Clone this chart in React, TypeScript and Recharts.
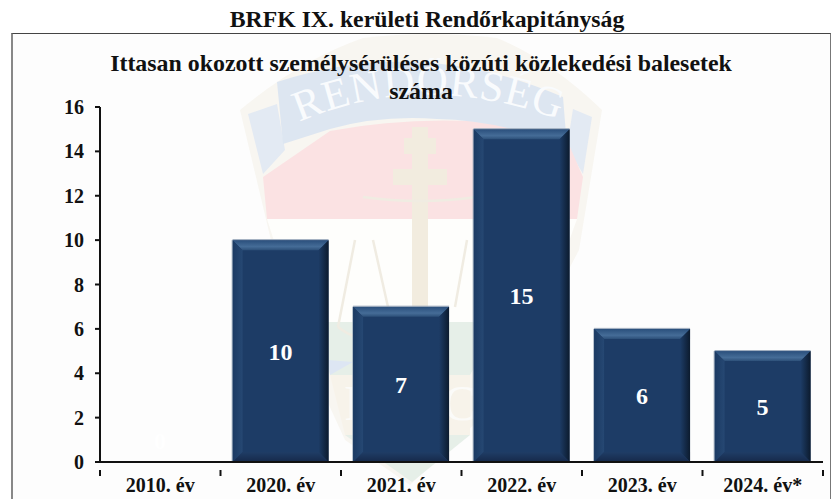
import * as React from "react"
import { Bar, BarChart, LabelList, XAxis, YAxis } from "recharts"

const categories = ["2010. év", "2020. év", "2021. év", "2022. év", "2023. év", "2024. év*"]
const accidents = [0, 10, 7, 15, 6, 5]
const yTicks = [0, 2, 4, 6, 8, 10, 12, 14, 16]

const pageTitle = "BRFK IX. kerületi Rendőrkapitányság"
const chartTitle = ["Ittasan okozott személysérüléses közúti közlekedési balesetek", "száma"]

const chartData = categories.map((name, i) => ({ name, value: accidents[i] }))

const FONT = '"Liberation Serif", "Times New Roman", serif'
const PLOT_LEFT = 100
const PLOT_RIGHT = 823
const BAND = (PLOT_RIGHT - PLOT_LEFT) / categories.length

function BevelBar(props: any) {
  const { x, y, width, height } = props
  if (!height || height <= 0) return null
  const b = 10
  const r = x + width
  const t = y + height
  return (
    <g>
      <rect x={x} y={y} width={width} height={height} fill="#1d3c66" />
      <polygon points={`${x},${y} ${r},${y} ${r - b},${y + b} ${x + b},${y + b}`} fill="url(#bevelTop)" />
      <polygon points={`${x},${y} ${x + b},${y + b} ${x + b},${t - b} ${x},${t}`} fill="url(#bevelLeft)" />
      <polygon points={`${r},${y} ${r},${t} ${r - b},${t - b} ${r - b},${y + b}`} fill="url(#bevelRight)" />
      <polygon points={`${x},${t} ${x + b},${t - b} ${r - b},${t - b} ${r},${t}`} fill="url(#bevelBottom)" />
      <line x1={x} x2={r} y1={y - 0.5} y2={y - 0.5} stroke="#9aa9bb" strokeWidth={1} />
      <line x1={x - 0.5} x2={x - 0.5} y1={y} y2={t} stroke="#9aa9bb" strokeWidth={1} opacity={0.7} />
    </g>
  )
}

function ValueLabel(props: any) {
  const { x, y, width, height, value } = props
  // the zero bar has no height, its white label sits just above the axis
  const cy = value === 0 ? y - 22 : y + height / 2
  return (
    <text x={x + width / 2} y={cy} dy="0.36em" textAnchor="middle" fill="#ffffff" fontFamily={FONT} fontWeight="bold" fontSize={24}>
      {value}
    </text>
  )
}

function CategoryTick(props: any) {
  const { x, y, payload, index } = props
  const left = x - BAND / 2
  return (
    <g>
      <line x1={left} x2={left} y1={y} y2={y + 6} stroke="#111" strokeWidth={2} />
      {index === categories.length - 1 && (
        <line x1={left + BAND} x2={left + BAND} y1={y} y2={y + 6} stroke="#111" strokeWidth={2} />
      )}
      <text x={x} y={y + 22} textAnchor="middle" fill="#111" fontFamily={FONT} fontWeight="bold" fontSize={20}>
        {payload.value}
      </text>
    </g>
  )
}

function Watermark() {
  return (
    <svg width={832} height={499} style={{ position: "absolute", left: 0, top: 0 }}>
      <defs>
        <path id="ribbonArc" d="M299 122 Q 425 68 565 122" />
      </defs>
      {/* shield body */}
      <path d="M240 110 Q 300 60 363 38 Q 430 30 497 38 Q 550 60 602 110 L579 250 L500 400 L410 485 L345 440 L290 320 Z" fill="#f8f6f1" />
      {/* side tails of the ribbon */}
      <polygon points="248,114 277,104 285,150 263,174" fill="#e3eaf3" />
      <polygon points="573,109 592,117 583,174 567,147" fill="#e3eaf3" />
      {/* red band */}
      <path d="M263 177 L330 131 Q 440 110 563 131 L583 177 L577 219 L267 219 Z" fill="#fbe2e3" />
      {/* white field */}
      <polygon points="267,219 577,219 540,322 300,322" fill="#fefefc" />
      {/* ribbon */}
      <path d="M277 82 Q 420 35 563 97 L567 147 Q 500 120 437 119 Q 380 115 330 129 L283 144 Z" fill="#dde6f1" />
      {/* green and beige lower part */}
      <polygon points="315,322 500,322 470,375 330,375" fill="#e6efe8" />
      <polygon points="330,375 470,375 470,435 345,435" fill="#f7f3ea" />
      <polygon points="345,435 470,435 412,482" fill="#e6efe8" />
      <polygon points="328,360 353,362 330,375" fill="#dde6f3" />
      {/* double cross */}
      <path d="M420 127 V330 M404 146 H436 M393 177 H447" stroke="#f2ecdf" strokeWidth={16} fill="none" />
      {/* scales */}
      <path d="M363 197 Q 420 205 477 197 M355 240 L338 327 M373 240 L388 307 M467 240 L455 307 M338 327 Q 360 345 400 340" stroke="#f0ece2" strokeWidth={2.5} fill="none" />
      <text fontFamily={FONT} fontSize={43} letterSpacing={1} fill="#f9fbfd">
        <textPath href="#ribbonArc">RENDŐRSÉG</textPath>
      </text>
      <text x={344} y={420} fontFamily={FONT} fontSize={50} fill="#fbfbf9">P</text>
      <text x={443} y={420} fontFamily={FONT} fontSize={50} fill="#fbfbf9">C</text>
    </svg>
  )
}

export default function App() {
  return (
    <div style={{ position: "absolute", left: 0, top: 0, width: 832, height: 499, overflow: "hidden", background: "#fff" }}>
      <div style={{ position: "absolute", left: 11, top: 33, width: 820, height: 470, background: "#fdfdfd", borderTop: "1px solid #444", borderLeft: "2px solid #888", borderRight: "1px solid #777", boxSizing: "border-box" }} />
      <Watermark />
      <div style={{ position: "absolute", left: 0, width: 854, top: 5, textAlign: "center", fontFamily: FONT, fontWeight: "bold", fontSize: 23.75, lineHeight: "28px", color: "#111" }}>
        {pageTitle}
      </div>
      <div style={{ position: "absolute", left: 0, width: 842, top: 49, textAlign: "center", fontFamily: FONT, fontWeight: "bold", fontSize: 23.9, lineHeight: "28px", color: "#111" }}>
        {chartTitle[0]}
        <br />
        {chartTitle[1]}
      </div>
      <div style={{ position: "absolute", left: 0, top: 0 }}>
        <BarChart
          width={832}
          height={499}
          data={chartData}
          barCategoryGap="10%"
          margin={{ top: 107, right: 832 - PLOT_RIGHT, bottom: 0, left: 0 }}
        >
          <defs>
            <linearGradient id="bevelTop" x1="0" y1="0" x2="0" y2="1">
              <stop offset="0%" stopColor="#2a4f7c" />
              <stop offset="65%" stopColor="#456c97" />
              <stop offset="100%" stopColor="#2d5079" />
            </linearGradient>
            <linearGradient id="bevelLeft" x1="0" y1="0" x2="1" y2="0">
              <stop offset="0%" stopColor="#1b3a63" />
              <stop offset="100%" stopColor="#264873" />
            </linearGradient>
            <linearGradient id="bevelRight" x1="0" y1="0" x2="1" y2="0">
              <stop offset="0%" stopColor="#1d3c66" />
              <stop offset="100%" stopColor="#0c1b2e" />
            </linearGradient>
            <linearGradient id="bevelBottom" x1="0" y1="0" x2="0" y2="1">
              <stop offset="0%" stopColor="#1f3d66" />
              <stop offset="100%" stopColor="#16294a" />
            </linearGradient>
          </defs>
          <XAxis
            dataKey="name"
            height={37}
            interval={0}
            axisLine={{ stroke: "#111", strokeWidth: 2 }}
            tickLine={false}
            tick={<CategoryTick />}
          />
          <YAxis
            width={PLOT_LEFT}
            domain={[0, 16]}
            ticks={yTicks}
            interval={0}
            axisLine={{ stroke: "#111", strokeWidth: 2 }}
            tickLine={{ stroke: "#111", strokeWidth: 2 }}
            tickSize={5}
            tickMargin={11}
            tick={{ fill: "#111", fontFamily: FONT, fontWeight: "bold", fontSize: 20 }}
          />
          <Bar dataKey="value" fill="#1d3c66" shape={<BevelBar />} isAnimationActive={false}>
            <LabelList dataKey="value" content={<ValueLabel />} />
          </Bar>
        </BarChart>
      </div>
    </div>
  )
}
